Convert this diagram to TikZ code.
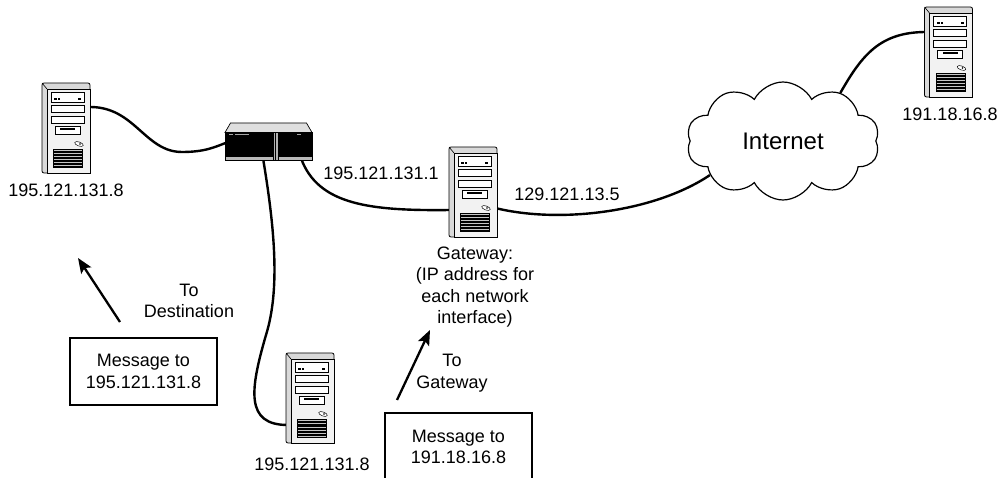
\documentclass[tikz,border=0pt]{standalone}
\usepackage{fontspec}
\setmainfont{Liberation Sans}
\usetikzlibrary{shapes.symbols,arrows.meta,calc}
\pgfdeclarelayer{bg}
\pgfsetlayers{bg,main}
\tikzset{
  lbl/.style={font=\fontsize{18}{21.6}\selectfont, align=center, inner sep=0pt},
  cable/.style={line width=2.4pt, black},
  msgbox/.style={draw, line width=2.3pt, minimum width=147pt, minimum height=67pt, align=center, font=\fontsize{18}{21.6}\selectfont, inner sep=0pt},
  arr/.style={line width=2.3pt, -{Stealth[length=15pt,width=12pt,inset=3pt]}},
  server/.pic={
    \node[minimum width=48pt, minimum height=90pt, inner sep=0pt] (-n) {};
    \filldraw[fill=gray!30, line width=0.8pt, rounded corners=2pt] (-24,-45) rectangle (24,45);
    \filldraw[fill=gray!10, line width=0.6pt] (-19,-39) rectangle (24,45);
    \draw[line width=0.6pt] (-24,-45) -- (-19,-39);
    \filldraw[fill=white, line width=0.6pt] (-15,-36) rectangle (18,-26);
    \fill[black] (-12,-30) rectangle (-9,-28);
    \fill[black] (-8,-30) rectangle (-6,-28);
    \fill[black] (12,-30) rectangle (15,-28);
    \filldraw[fill=white, line width=0.6pt] (-15,-23) rectangle (18,-16);
    \filldraw[fill=white, line width=0.6pt] (-15,-12) rectangle (18,-5);
    \filldraw[fill=white, line width=0.6pt] (-11,-2) rectangle (14,6);
    \fill[black] (-6,0.5) rectangle (9,2.5);
    \filldraw[fill=white, line width=0.5pt, rotate around={-20:(13,16)}] (13,16) ellipse (4.5 and 2);
    \fill[black] (14,16) circle (0.8);
    \fill[black] (-13,21) rectangle (17,40);
    \foreach \yy in {23,26,29,32,35,38} {\draw[gray!45, line width=1pt] (-12,\yy) -- (16,\yy);}
  }
}
\begin{document}
\begin{tikzpicture}[x=1pt,y=-1pt]
\useasboundingbox (0,0) rectangle (1002,478);
% servers
\pic (srvL) at (66,128) {server};
\pic (srvR) at (948.5,52) {server};
\pic (gw) at (473,192) {server};
\pic (srvB) at (310,398) {server};
% hub
\node[minimum width=87pt, minimum height=37pt, inner sep=0pt] (hub) at (268.5,141.5) {};
\begin{scope}[shift={(hub.center)}]
  \filldraw[fill=gray!25, line width=0.7pt] (-43.5,-9) -- (-38,-18.5) -- (38,-18.5) -- (43.5,-9) -- cycle;
  \filldraw[fill=black, line width=0.7pt] (-43.5,-9) rectangle (43.5,18.5);
  \filldraw[fill=gray!55, line width=0.7pt] (-43.5,14.5) rectangle (43.5,18.5);
  \filldraw[fill=gray!60, line width=0.6pt] (4.5,-9) rectangle (9.5,18.5);
  \draw[line width=0.8pt] (7,-9) -- (7,18.5);
  \fill[gray!70] (-40,-7.5) rectangle (-36,-6.3);
  \fill[gray!70] (-34,-7.5) rectangle (-20,-6.3);
  \fill[gray!70] (28,-7.5) rectangle (32,-6.3);
\end{scope}
% cloud
\node[cloud, cloud puffs=10, cloud puff arc=125, aspect=1.65, minimum width=193pt, minimum height=118pt, draw, line width=1.2pt, fill=white, inner sep=0pt, font=\fontsize{24}{28}\selectfont] (cloud) at (783,141) {Internet};
% cables
\begin{pgfonlayer}{bg}
\draw[cable] ($(srvL-n.east)+(0,-21)$) .. controls (135,107) and (145,152) .. (182,152) .. controls (205,152) and (215,147) .. ($(hub.west)+(2,1)$);
\draw[cable] ($(hub.south)+(-5.5,-2)$) .. controls (275,230) and (280,290) .. (266,335) .. controls (250,390) and (245,425) .. ($(srvB-n.west)+(2,27)$);
\draw[cable] ($(hub.south)+(32.5,-2)$) .. controls (318,205) and (370,211) .. ($(gw-n.west)+(2,18)$);
\draw[cable] ($(gw-n.east)+(-2,16)$) .. controls (560,224) and (655,212) .. (cloud.205);
\draw[cable] (cloud.40) .. controls (862,55) and (880,32) .. ($(srvR-n.west)+(2,-20)$);
\end{pgfonlayer}
% labels
\node[lbl] (lL) at (66,190) {195.121.131.8};
\node[lbl] (lR) at (950,114) {191.18.16.8};
\node[lbl] (lB) at (312,464) {195.121.131.8};
\node[lbl] (lG) at (475,287) {Gateway:\\(IP address for\\each network\\interface)};
\node[lbl] (ip1) at (381,173) {195.121.131.1};
\node[lbl] (ip2) at (567,194) {129.121.13.5};
\node[lbl] (tD) at (189,301) {To\\Destination};
\node[lbl] (tG) at (452,373) {To\\Gateway};
% message boxes
\node[msgbox] (msgA) at (143.5,371.5) {Message to\\195.121.131.8};
\node[msgbox, minimum height=68pt] (msgB) at (458.5,447) {Message to\\191.18.16.8};
% arrows
\coordinate (a1s) at (120,322);
\coordinate (a1e) at (78,258);
\coordinate (a2s) at (397,400);
\coordinate (a2e) at (430,330);
\draw[arr] (a1s) -- (a1e);
\draw[arr] (a2s) -- (a2e);
\end{tikzpicture}
\end{document}
